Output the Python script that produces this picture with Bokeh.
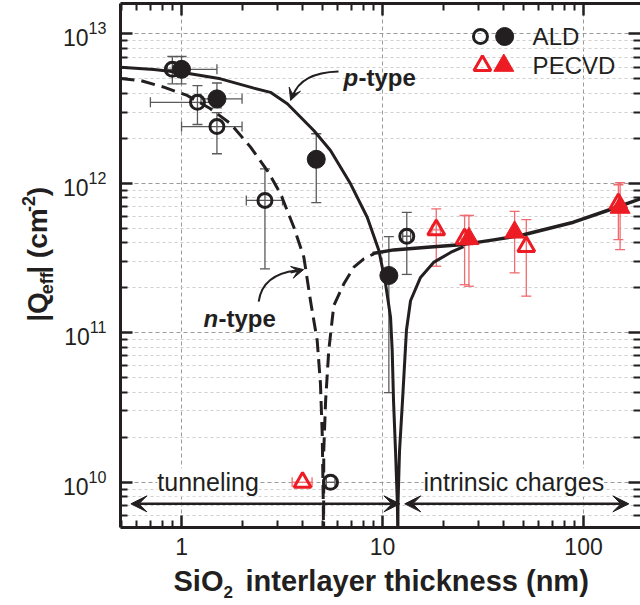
import math
from bokeh.plotting import figure
from bokeh.layouts import row, column
from bokeh.models import (LogAxis, FixedTicker, Whisker, TeeHead, VeeHead, Arrow,
                          Label, ColumnDataSource, Range1d, BasicTickFormatter,
                          CustomJSTickFormatter, LogTickFormatter)
from bokeh.embed import file_html
from bokeh.resources import INLINE

FONT = "Liberation Sans"
INK = "#231f20"
RED = "#ed1c24"
BAR_RED = "#f06a70"
BAR_GREY = "#5a5a5a"

# ---------------- ticks ----------------
x_major = [1, 10, 100]
x_minor = [0.5, 0.6, 0.7, 0.8, 0.9, 2, 3, 4, 5, 6, 7, 8, 9,
           20, 30, 40, 50, 60, 70, 80, 90]
y_major = [1e10, 1e11, 1e12, 1e13]
y_minor = [6e9, 7e9, 8e9, 9e9,
           2e10, 3e10, 4e10, 5e10, 6e10, 7e10, 8e10, 9e10,
           2e11, 3e11, 4e11, 5e11, 6e11, 7e11, 8e11, 9e11,
           2e12, 3e12, 4e12, 5e12, 6e12, 7e12, 8e12, 9e12]

# ---------------- data: ALD ----------------
ald_open_x = [0.90, 1.20, 1.50, 2.60, 5.51, 13.2]
ald_open_y = [5.8e12, 3.49e12, 2.40e12, 7.69e11, 1.0e10, 4.43e11]
ald_open_vx = [0.90, 1.20, 1.50, 2.60, 13.2]
ald_open_vlo = [4.64e12, 2.48e12, 1.58e12, 2.68e11, 2.46e11]
ald_open_vhi = [7.07e12, 4.52e12, 2.98e12, 1.25e12, 6.41e11]
ald_open_hy = [3.49e12, 2.40e12, 7.69e11, 1.0e10, 4.43e11]
ald_open_hlo = [0.70, 1.00, 2.10, 5.25, 12.6]
ald_open_hhi = [1.45, 2.00, 3.18, 5.80, 13.8]

ald_fill_x = [1.00, 1.50, 4.68, 10.75]
ald_fill_y = [5.8e12, 3.68e12, 1.45e12, 2.42e11]
ald_fill_vx = [1.00, 1.50, 4.68, 10.75]
ald_fill_vlo = [4.64e12, 3.2e12, 7.43e11, 3.98e10]
ald_fill_vhi = [7.07e12, 4.70e12, 2.15e12, 4.40e11]
ald_fill_hy = [5.8e12, 3.68e12, 1.45e12, 2.42e11]
ald_fill_hlo = [0.85, 1.25, 4.30, 10.3]
ald_fill_hhi = [1.50, 2.00, 5.10, 11.2]

# ---------------- data: PECVD ----------------
pecvd_open_x = [4.0, 18.5, 25.6, 51.9, 149.0]
pecvd_open_y = [1.0e10, 4.89e11, 4.26e11, 3.78e11, 7.3e11]
pecvd_open_vx = [18.5, 25.6, 51.9, 149.0]
pecvd_open_vlo = [2.79e11, 2.10e11, 1.76e11, 4.2e11]
pecvd_open_vhi = [6.76e11, 6.10e11, 5.73e11, 9.8e11]
pecvd_open_hy = [1.0e10, 4.89e11, 4.26e11]
pecvd_open_hlo = [3.55, 17.6, 24.6]
pecvd_open_hhi = [4.46, 19.4, 26.6]

pecvd_fill_x = [26.9, 45.4, 152.0]
pecvd_fill_y = [4.26e11, 4.71e11, 6.9e11]
pecvd_fill_vx = [26.9, 45.4, 152.0]
pecvd_fill_vlo = [2.05e11, 2.52e11, 3.6e11]
pecvd_fill_vhi = [6.10e11, 6.50e11, 1.01e12]

# ---------------- model curves ----------------
ptype_x = [0.497, 0.728, 1.067, 1.563, 2.29, 2.77, 3.36, 4.55, 5.51, 6.93, 8.39,
           9.59, 10.35, 10.96, 11.17, 11.34, 11.6, 11.85, 11.92,
           11.94, 12.15, 12.57, 13.15, 13.78, 15.45, 17.94, 21.8, 25.3]
ptype_y = [6.0e12, 5.78e12, 5.47e12, 5.01e12, 4.34e12, 4.07e12, 3.41e12, 2.26e12,
           1.66e12, 9.94e11, 5.94e11, 3.56e11, 2.13e11, 1.27e11, 7.6e10, 3.52e10,
           1.63e10, 7.2e9, 4.0e9,
           7.2e9, 1.63e10, 3.52e10, 1.04e11, 1.64e11, 2.35e11, 2.96e11, 3.45e11, 3.78e11]

ntype_x = [0.497, 0.625, 0.816, 1.067, 1.394, 1.753, 2.205, 2.67, 3.11, 3.62, 4.06,
           4.38, 4.73, 4.91, 5.01, 5.07, 5.09,
           5.10, 5.21, 5.40, 5.72, 6.42, 7.20, 8.07, 9.05]
ntype_y = [5.04e12, 4.88e12, 4.41e12, 3.88e12, 3.16e12, 2.51e12, 1.75e12, 1.22e12,
           8.52e11, 5.09e11, 3.21e11, 1.64e11, 8.88e10, 4.58e10, 2.12e10, 7.55e9, 4.0e9,
           1.63e10, 3.52e10, 7.62e10, 1.52e11, 2.13e11, 2.75e11, 3.13e11, 3.38e11]

common_x = [8.92, 11.35, 16.7, 24.4, 35.7, 48.6, 61.1, 89.2, 131.5, 192.0]
common_y = [3.40e11, 3.59e11, 3.74e11, 3.88e11, 4.19e11, 4.48e11, 4.84e11,
            5.50e11, 6.59e11, 7.89e11]

MAIN_H = 563          # main figure height (frame 3..527, tick labels below)
YT_W = 60             # width of the strip holding the y title
FRAME_LEFT = 120      # frame left edge on the page

# ---------------- main figure ----------------
p = figure(width=640 - YT_W, height=MAIN_H, x_axis_type="log", y_axis_type="log",
           x_range=Range1d(0.497, 192.0), y_range=Range1d(4.98e9, 1.6e13),
           output_backend="svg", toolbar_location=None,
           min_border_left=FRAME_LEFT - YT_W, min_border_right=0, min_border_top=3,
           min_border_bottom=MAIN_H - 527)
p.outline_line_color = None
p.background_fill_color = "white"
p.border_fill_color = "white"

# grids
p.xgrid.ticker = FixedTicker(ticks=x_major)
p.xgrid.grid_line_color = "#9a9a9a"
p.xgrid.grid_line_dash = "4 3"
p.xgrid.grid_line_width = 1
p.ygrid.ticker = FixedTicker(ticks=y_major, minor_ticks=y_minor)
p.ygrid.grid_line_color = "#9a9a9a"
p.ygrid.grid_line_dash = "4 3"
p.ygrid.grid_line_width = 1
p.ygrid.minor_grid_line_color = "#cfcfcf"
p.ygrid.minor_grid_line_dash = "3 3"
p.ygrid.minor_grid_line_width = 1


def style_axis(ax):
    ax.axis_line_color = INK
    ax.axis_line_width = 3
    ax.major_tick_in = 12
    ax.major_tick_out = 0
    ax.minor_tick_in = 7
    ax.minor_tick_out = 0
    ax.major_tick_line_color = INK
    ax.major_tick_line_width = 2.5
    ax.minor_tick_line_color = INK
    ax.minor_tick_line_width = 2


xa = p.xaxis[0]
xa.ticker = FixedTicker(ticks=x_major, minor_ticks=x_minor)
xa.formatter = BasicTickFormatter(use_scientific=False)
xa.major_label_text_font = FONT
xa.major_label_text_font_size = "23px"
xa.major_label_text_color = INK
xa.major_label_standoff = 10
style_axis(xa)

ya = p.yaxis[0]
ya.ticker = FixedTicker(ticks=y_major, minor_ticks=y_minor)
ya.formatter = LogTickFormatter()
ya.major_label_text_font = FONT
ya.major_label_text_font_size = "23px"
ya.major_label_text_color = INK
ya.major_label_standoff = 14
style_axis(ya)

blank = CustomJSTickFormatter(code="return ''")
top = LogAxis(ticker=FixedTicker(ticks=x_major, minor_ticks=x_minor), formatter=blank,
              major_label_text_color=None, major_label_text_font_size="1px",
              major_label_standoff=0)
style_axis(top)
p.add_layout(top, "above")
right = LogAxis(ticker=FixedTicker(ticks=y_major, minor_ticks=y_minor), formatter=blank,
                major_label_text_color=None, major_label_text_font_size="1px",
                major_label_standoff=0)
style_axis(right)
right.axis_line_color = None
p.add_layout(right, "right")


# ---------------- error bars ----------------
def whisker(base, lo, hi, dim, color):
    src = ColumnDataSource(dict(base=base, lower=lo, upper=hi))
    w = Whisker(source=src, base="base", lower="lower", upper="upper", dimension=dim,
                line_color=color, line_width=1.3,
                upper_head=TeeHead(size=10, line_color=color, line_width=1.3),
                lower_head=TeeHead(size=10, line_color=color, line_width=1.3))
    p.add_layout(w)


whisker(ald_open_vx, ald_open_vlo, ald_open_vhi, "height", BAR_GREY)
whisker(ald_open_hy, ald_open_hlo, ald_open_hhi, "width", BAR_GREY)
whisker(ald_fill_vx, ald_fill_vlo, ald_fill_vhi, "height", BAR_GREY)
whisker(ald_fill_hy, ald_fill_hlo, ald_fill_hhi, "width", BAR_GREY)
whisker(pecvd_open_vx, pecvd_open_vlo, pecvd_open_vhi, "height", BAR_RED)
whisker(pecvd_open_hy, pecvd_open_hlo, pecvd_open_hhi, "width", BAR_RED)
whisker(pecvd_fill_vx, pecvd_fill_vlo, pecvd_fill_vhi, "height", BAR_RED)

# ---------------- curves ----------------
p.line(ntype_x, ntype_y, line_color=INK, line_width=3, line_dash="14 7",
       line_join="round")
p.line(ptype_x, ptype_y, line_color=INK, line_width=3, line_join="round")
p.line(common_x, common_y, line_color=INK, line_width=3.5, line_join="round")

# ---------------- markers ----------------
p.scatter(ald_open_x, ald_open_y, marker="circle", size=14, fill_color=None,
          line_color=INK, line_width=3)
p.scatter(ald_fill_x, ald_fill_y, marker="circle", size=18, fill_color=INK,
          line_color=INK, line_width=1)
p.scatter(pecvd_open_x, pecvd_open_y, marker="triangle", size=17, fill_color=None,
          line_color=RED, line_width=3)
p.scatter(pecvd_fill_x, pecvd_fill_y, marker="triangle", size=20, fill_color=RED,
          line_color=RED, line_width=1)

# ---------------- legend (manual) ----------------
leg_circle_x = [30.7, 40.5]
leg_tri_x = [31.4, 40.1]
leg_y_ald = 9.62e12
leg_y_pecvd = 6.15e12
p.scatter([leg_circle_x[0]], [leg_y_ald], marker="circle", size=14, fill_color=None,
          line_color=INK, line_width=3)
p.scatter([leg_circle_x[1]], [leg_y_ald], marker="circle", size=18, fill_color=INK,
          line_color=INK)
p.scatter([leg_tri_x[0]], [leg_y_pecvd], marker="triangle", size=17, fill_color=None,
          line_color=RED, line_width=3)
p.scatter([leg_tri_x[1]], [leg_y_pecvd], marker="triangle", size=20, fill_color=RED,
          line_color=RED)


def label(fig, text, x, y, size, xu="data", yu="data", style="normal", align="left",
          baseline="middle", angle=0.0, bg=None):
    lab = Label(x=x, y=y, x_units=xu, y_units=yu, text=text, text_font=FONT,
                text_font_size=f"{size}px", text_font_style=style, text_color=INK,
                text_align=align, text_baseline=baseline, angle=angle,
                background_fill_color=bg)
    fig.add_layout(lab)
    return lab


label(p, "ALD", 55.8, leg_y_ald, 24)
label(p, "PECVD", 55.8, leg_y_pecvd, 24)

# region labels and arrows
label(p, "tunneling", 1.355, 1e10, 25, align="center", bg="white")
label(p, "intrinsic charges", 45.0, 1e10, 25, align="center", bg="white")
arrow_y = 7.17e9
p.add_layout(Arrow(x_start=0.56, y_start=arrow_y, x_end=12.2, y_end=arrow_y,
                   line_color=INK, line_width=2.5,
                   start=VeeHead(size=16, fill_color=INK, line_color=INK),
                   end=VeeHead(size=16, fill_color=INK, line_color=INK)))
p.add_layout(Arrow(x_start=12.9, y_start=arrow_y, x_end=168.0, y_end=arrow_y,
                   line_color=INK, line_width=2.5,
                   start=VeeHead(size=16, fill_color=INK, line_color=INK),
                   end=VeeHead(size=16, fill_color=INK, line_color=INK)))

# p-type / n-type labels
label(p, "p", 223, 450, 24, xu="screen", yu="screen", style="bold italic",
      baseline="alphabetic")
label(p, "-type", 238, 450, 24, xu="screen", yu="screen", style="bold",
      baseline="alphabetic")
label(p, "n", 83, 209, 24, xu="screen", yu="screen", style="bold italic",
      baseline="alphabetic")
label(p, "-type", 98, 209, 24, xu="screen", yu="screen", style="bold",
      baseline="alphabetic")

# curved pointer arrows
p.quadratic(x0=[6.04], y0=[5.61e12], x1=[3.57], y1=[3.82e12], cx=[3.91], cy=[5.52e12],
            line_color=INK, line_width=2)
p.add_layout(Arrow(x_start=3.61, y_start=4.06e12, x_end=3.49, y_end=3.59e12,
                   line_color=INK, line_width=2,
                   end=VeeHead(size=12, fill_color=INK, line_color=INK)))
p.quadratic(x0=[2.42], y0=[1.62e11], x1=[3.73], y1=[2.61e11], cx=[2.53], cy=[2.46e11],
            line_color=INK, line_width=2)
p.add_layout(Arrow(x_start=3.49, y_start=2.53e11, x_end=4.05, y_end=2.65e11,
                   line_color=INK, line_width=2,
                   end=VeeHead(size=12, fill_color=INK, line_color=INK)))


# ---------------- axis titles (separate strips, composed for sub/superscripts) ----
def strip(w, h):
    f = figure(width=w, height=h, x_range=Range1d(0, w), y_range=Range1d(0, h),
               x_axis_location=None, y_axis_location=None, toolbar_location=None,
               output_backend="svg", min_border=0)
    f.outline_line_color = None
    f.background_fill_color = "white"
    f.border_fill_color = "white"
    for g in f.grid:
        g.visible = False
    return f


# y title: rotated pieces, positioned by their vertical middle line (page x ~ 37)
yt = strip(YT_W, MAIN_H)
ang = math.pi / 2
ymid = 37
label(yt, "|Q", ymid, MAIN_H - 342, 28, style="bold", angle=ang)
label(yt, "eff", ymid + 9, MAIN_H - 312.4, 18, style="bold", angle=ang)
label(yt, "| (cm", ymid, MAIN_H - 290.4, 28, style="bold", angle=ang)
label(yt, "-2", ymid - 9, MAIN_H - 224, 18, style="bold", angle=ang)
label(yt, ")", ymid, MAIN_H - 207, 28, style="bold", angle=ang)

# x title strip
XT_H = 605 - MAIN_H
xt = strip(640, XT_H)
xmid = 605 - 580        # vertical middle of main title line (page y ~580)
label(xt, "SiO", 173, xmid, 29, style="bold")
label(xt, "2", 223, xmid - 11, 17, style="bold")
label(xt, "interlayer thickness (nm)", 245, xmid, 29, style="bold")

layout = column(row(yt, p, spacing=0), xt, spacing=0)
open("out.html", "w").write(file_html(layout, INLINE))
